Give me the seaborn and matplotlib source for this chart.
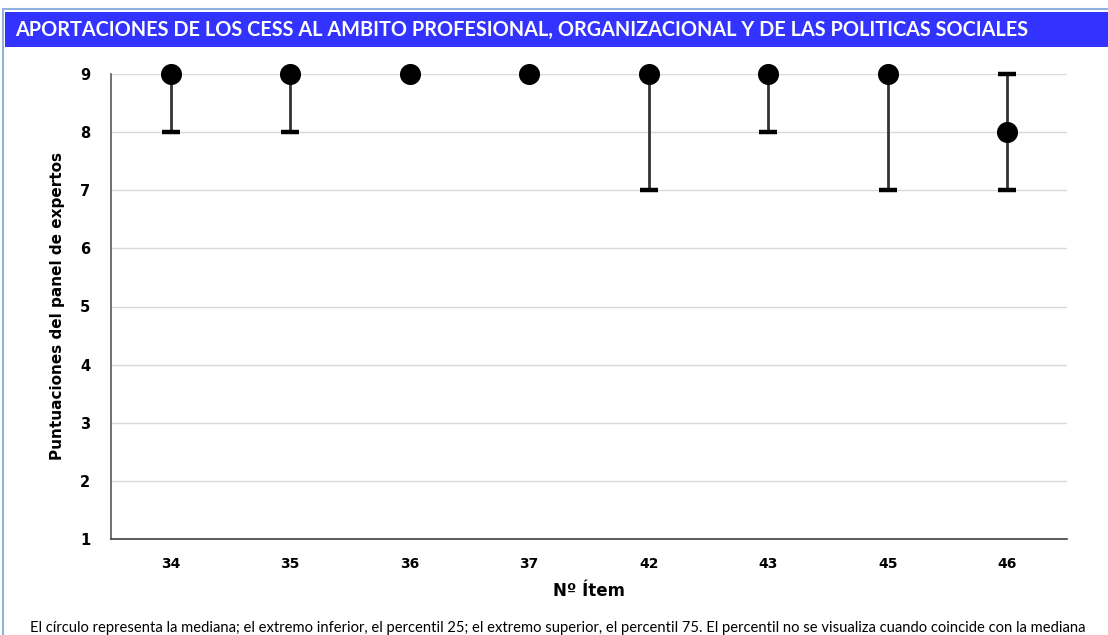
import matplotlib
matplotlib.use("Agg")
import matplotlib.pyplot as plt
from matplotlib.patches import Rectangle
from matplotlib.lines import Line2D
from matplotlib.ticker import FixedLocator, NullFormatter
import numpy as np
import pandas as pd
import seaborn as sns

# Items and the panel's score summary for each one
items = ["34", "35", "36", "37", "42", "43", "45", "46"]
median = [9, 9, 9, 9, 9, 9, 9, 8]
p25 = [8, 8, 9, 9, 7, 8, 7, 7]
p75 = [9, 9, 9, 9, 9, 9, 9, 9]
y_ticks = [1, 2, 3, 4, 5, 6, 7, 8, 9]

title = "APORTACIONES DE LOS CESS AL AMBITO PROFESIONAL, ORGANIZACIONAL Y DE LAS POLITICAS SOCIALES"
x_label = "Nº Ítem"
y_label = "Puntuaciones del panel de expertos"
note = ("El círculo representa la mediana; el extremo inferior, el percentil 25; el extremo superior, "
        "el percentil 75. El percentil no se visualiza cuando coincide con la mediana")

df = pd.DataFrame({"item": items, "median": median, "p25": p25, "p75": p75})

sns.set_theme(style="white")
plt.rcParams["font.family"] = ["DejaVu Sans"]
plt.rcParams["text.color"] = "black"
plt.rcParams["axes.labelcolor"] = "black"
plt.rcParams["xtick.color"] = "black"
plt.rcParams["ytick.color"] = "black"

W, H = 1108, 635
fig = plt.figure(figsize=(W / 100, H / 100), dpi=100)
fig.patch.set_facecolor("white")

# frame lines and title banner
fig.add_artist(Line2D([3 / W, 3 / W], [0, 1 - 9 / H], color="#8fb3de", lw=1.5,
                      transform=fig.transFigure))
fig.add_artist(Line2D([3 / W, 1], [1 - 9 / H, 1 - 9 / H], color="#8fb3de", lw=1.5,
                      transform=fig.transFigure))
fig.add_artist(Rectangle((5 / W, 1 - 47 / H), 1 - 5 / W, 35 / H,
                         transform=fig.transFigure, color="#3333ff", lw=0))
fig.text(15 / W, 1 - 30 / H, title, color="white", fontsize=14.3, fontweight="bold",
         family=["Lato", "DejaVu Sans"], va="center", ha="left")

ax = fig.add_axes([111 / W, 1 - 539 / H, (1067 - 111) / W, (539 - 74) / H])

# whiskers from P25 to P75
ax.vlines(df["item"], df["p25"], df["p75"], color="#333333", lw=2, zorder=2)

# caps only where the percentile differs from the median
lo = df[df["p25"] < df["median"]]
hi = df[df["p75"] > df["median"]]
ax.scatter(lo["item"], lo["p25"], marker="_", s=160, linewidths=3.2, color="black",
           zorder=3, clip_on=False)
ax.scatter(hi["item"], hi["p75"], marker="_", s=160, linewidths=3.2, color="black",
           zorder=3, clip_on=False)

# medians
sns.scatterplot(data=df, x="item", y="median", ax=ax, s=230, color="black",
                edgecolor="black", linewidth=0, zorder=4, clip_on=False, legend=False)

ax.set_xlim(-0.5, len(items) - 0.5)
ax.set_ylim(1, 9)
ax.set_yticks(y_ticks)
ax.set_yticklabels([str(v) for v in y_ticks], fontsize=10.5, fontweight="bold")
ax.set_xticks(range(len(items)))
ax.set_xticklabels(items, fontsize=10, fontweight="bold")
ax.xaxis.set_minor_locator(FixedLocator(np.arange(-0.5, len(items), 1.0)))
ax.xaxis.set_minor_formatter(NullFormatter())
ax.tick_params(axis="x", which="major", length=0, pad=13)
ax.tick_params(axis="x", which="minor", length=7, width=1, color="#404040", direction="out")
ax.tick_params(axis="y", length=7, width=1, color="#595959", direction="out", pad=8)
ax.grid(axis="y", color="#d9d9d9", lw=1)
ax.set_axisbelow(True)

for side in ("top", "right"):
    ax.spines[side].set_visible(False)
ax.spines["left"].set_color("#595959")
ax.spines["bottom"].set_color("#404040")
ax.spines["left"].set_linewidth(1.2)
ax.spines["bottom"].set_linewidth(1.2)

ax.set_xlabel(x_label, fontsize=12, fontweight="bold", labelpad=8)
ax.set_ylabel(y_label, fontsize=11, fontweight="bold", labelpad=11)

fig.text(30 / W, 1 - 628 / H, note, fontsize=10.6, color="black",
         family=["Lato", "DejaVu Sans"], va="center", ha="left")

fig.savefig("out.png", dpi=100)
